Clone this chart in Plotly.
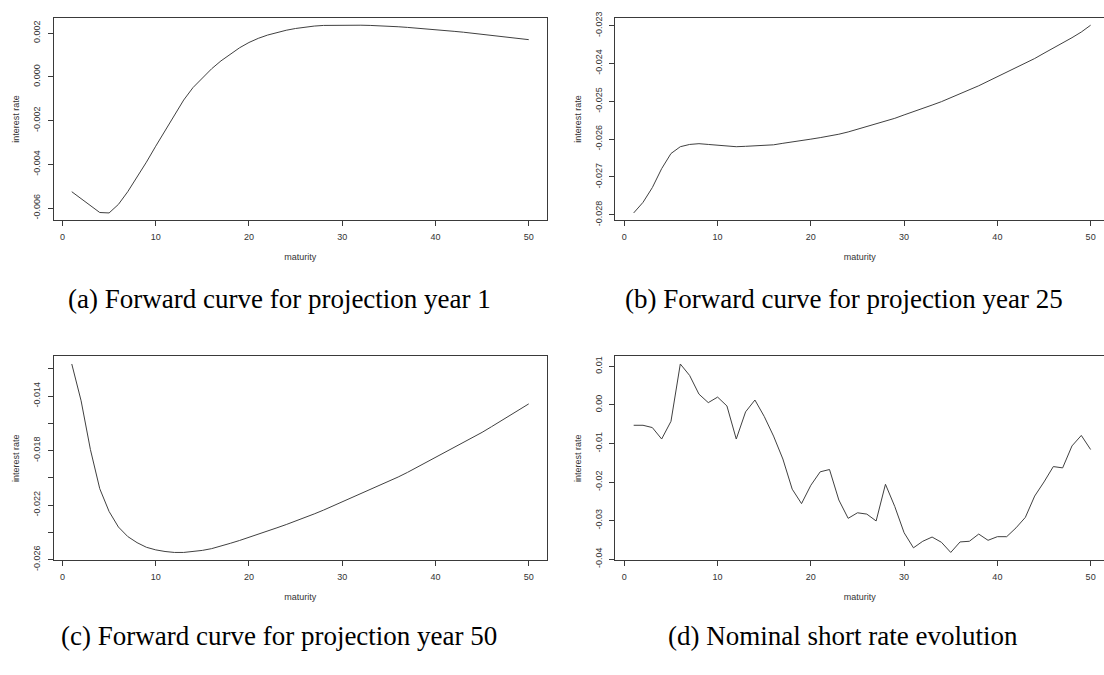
import plotly.graph_objects as go

# ---------------------------------------------------------------- data
maturity = list(range(1, 51))

fwd_year1 = [
    -0.00525, -0.00556, -0.00589, -0.00620, -0.00622, -0.00583, -0.00525, -0.00460, -0.00390, -0.00317,
    -0.00245, -0.00172, -0.00106, -0.00049, -0.00004, 0.00037, 0.00073, 0.00103, 0.00133, 0.00157,
    0.00176, 0.00191, 0.00203, 0.00213, 0.00221, 0.00227, 0.00232, 0.00235, 0.00236, 0.00236,
    0.00236, 0.00236, 0.00235, 0.00234, 0.00232, 0.00229, 0.00226, 0.00223, 0.00220, 0.00216,
    0.00212, 0.00208, 0.00204, 0.00199, 0.00194, 0.00189, 0.00184, 0.00180, 0.00175, 0.00170,
]

fwd_year25 = [
    -0.02795, -0.02767, -0.02728, -0.02678, -0.02638, -0.02620, -0.02614, -0.02612, -0.02614, -0.02616,
    -0.02618, -0.02620, -0.02619, -0.02618, -0.02617, -0.02615, -0.02611, -0.02608, -0.02605, -0.02600,
    -0.02596, -0.02592, -0.02587, -0.02581, -0.02574, -0.02568, -0.02561, -0.02553, -0.02545, -0.02536,
    -0.02528, -0.02520, -0.02510, -0.02501, -0.02491, -0.02480, -0.02470, -0.02459, -0.02447, -0.02435,
    -0.02424, -0.02412, -0.02400, -0.02387, -0.02373, -0.02360, -0.02347, -0.02332, -0.02317, -0.02299,
]

fwd_year50 = [
    -0.01164, -0.01434, -0.01793, -0.02080, -0.02247, -0.02361, -0.02431, -0.02476, -0.02510, -0.02529,
    -0.02541, -0.02548, -0.02548, -0.02543, -0.02533, -0.02520, -0.02502, -0.02481, -0.02460, -0.02438,
    -0.02415, -0.02391, -0.02367, -0.02343, -0.02318, -0.02292, -0.02265, -0.02237, -0.02207, -0.02177,
    -0.02147, -0.02117, -0.02087, -0.02057, -0.02026, -0.01994, -0.01960, -0.01924, -0.01888, -0.01852,
    -0.01815, -0.01778, -0.01741, -0.01704, -0.01666, -0.01625, -0.01583, -0.01541, -0.01499, -0.01457,
]

short_rate = [
    -0.00527, -0.00527, -0.00587, -0.00884, -0.00425, 0.01063, 0.00765, 0.00281, 0.00060, 0.00204,
    -0.00026, -0.00884, -0.00179, 0.00128, -0.00298, -0.00808, -0.01403, -0.02185, -0.02560, -0.02083,
    -0.01735, -0.01675, -0.02466, -0.02942, -0.02798, -0.02832, -0.03010, -0.02058, -0.02636, -0.03316,
    -0.03707, -0.03537, -0.03427, -0.03563, -0.03827, -0.03554, -0.03537, -0.03350, -0.03512, -0.03418,
    -0.03418, -0.03189, -0.02917, -0.02364, -0.01998, -0.01599, -0.01633, -0.01063, -0.00791, -0.01156,
]

x_ticks = [0, 10, 20, 30, 40, 50]
x_labels = ["0", "10", "20", "30", "40", "50"]

ticks_a = [-0.006, -0.004, -0.002, 0.000, 0.002]
labels_a = ["-0.006", "-0.004", "-0.002", "0.000", "0.002"]

ticks_b = [-0.028, -0.027, -0.026, -0.025, -0.024, -0.023]
labels_b = ["-0.028", "-0.027", "-0.026", "-0.025", "-0.024", "-0.023"]

ticks_c = [-0.026, -0.024, -0.022, -0.020, -0.018, -0.016, -0.014, -0.012]
labels_c = ["-0.026", "", "-0.022", "", "-0.018", "", "-0.014", ""]

ticks_d = [-0.04, -0.03, -0.02, -0.01, 0.00, 0.01]
labels_d = ["-0.04", "-0.03", "-0.02", "-0.01", "0.00", "0.01"]

captions = [
    "(a) Forward curve for projection year 1",
    "(b) Forward curve for projection year 25",
    "(c) Forward curve for projection year 50",
    "(d) Nominal short rate evolution",
]

x_title = "maturity"
y_title = "interest rate"

# ---------------------------------------------------------------- layout
W, H = 1104, 675
LINE = "#3a3a3a"
TEXT = "#333333"
SANS = "Liberation Sans, Arial, sans-serif"
SERIF = "Liberation Serif, Times New Roman, serif"

# plot boxes in pixels: (left, right, top, bottom); right column runs off the page edge
full_w = 493.5
boxes = [
    (53.5, 547.0, 12.0, 220.0),
    (615.4, 1104.0, 12.0, 220.0),
    (53.5, 547.0, 359.5, 568.3),
    (615.4, 1104.0, 359.5, 568.3),
]
caption_pos = [(279, 301), (844, 301), (279, 646), (843, 646)]


def padded(values, frac=0.04):
    lo, hi = min(values), max(values)
    d = (hi - lo) * frac
    return lo - d, hi + d


series = [fwd_year1, fwd_year25, fwd_year50, short_rate]
yticks = [(ticks_a, labels_a), (ticks_b, labels_b), (ticks_c, labels_c), (ticks_d, labels_d)]

fig = go.Figure()
layout = dict(
    width=W, height=H, autosize=False,
    margin=dict(l=0, r=0, t=0, b=0),
    paper_bgcolor="white", plot_bgcolor="white",
    showlegend=False,
    annotations=[],
)

for i, (ys, (tv, tt), box) in enumerate(zip(series, yticks, boxes), start=1):
    x0, x1, y0, y1 = box
    xs = "" if i == 1 else str(i)
    fig.add_trace(go.Scatter(
        x=maturity, y=ys, mode="lines",
        line=dict(color="#404040", width=1),
        xaxis="x" + xs, yaxis="y" + xs, hoverinfo="skip",
    ))

    xlo, xhi = padded(maturity)
    xhi_vis = xlo + (xhi - xlo) * (x1 - x0) / full_w
    ylo, yhi = padded(ys)
    clipped = (x1 - x0) < full_w - 1

    common = dict(
        showgrid=False, zeroline=False, showline=True, linecolor=LINE, linewidth=1,
        ticks="outside", ticklen=5, tickwidth=1, tickcolor=LINE,
        tickfont=dict(family=SANS, size=9, color=TEXT),
        fixedrange=True,
    )
    layout["xaxis" + xs] = dict(
        common,
        domain=[x0 / W, x1 / W], anchor="y" + xs,
        range=[xlo, xhi_vis], tickvals=x_ticks, ticktext=x_labels,
        mirror=True, ticklabelstandoff=3,
        title=dict(text=x_title, standoff=12, font=dict(family=SANS, size=9, color=TEXT)),
    )
    layout["yaxis" + xs] = dict(
        common,
        domain=[1 - y1 / H, 1 - y0 / H], anchor="x" + xs,
        range=[ylo, yhi], tickvals=tv, ticktext=tt, tickangle=-90,
        mirror=not clipped, ticklabelstandoff=4,
        title=dict(text=y_title, standoff=10, font=dict(family=SANS, size=9, color=TEXT)),
    )

for text, (cx, cy) in zip(captions, caption_pos):
    layout["annotations"].append(dict(
        text=text, x=cx / W, y=1 - cy / H, xref="paper", yref="paper",
        xanchor="center", yanchor="middle", showarrow=False,
        font=dict(family=SERIF, size=27, color="black"),
    ))

fig.update_layout(**layout)
fig.write_html("out.html")
